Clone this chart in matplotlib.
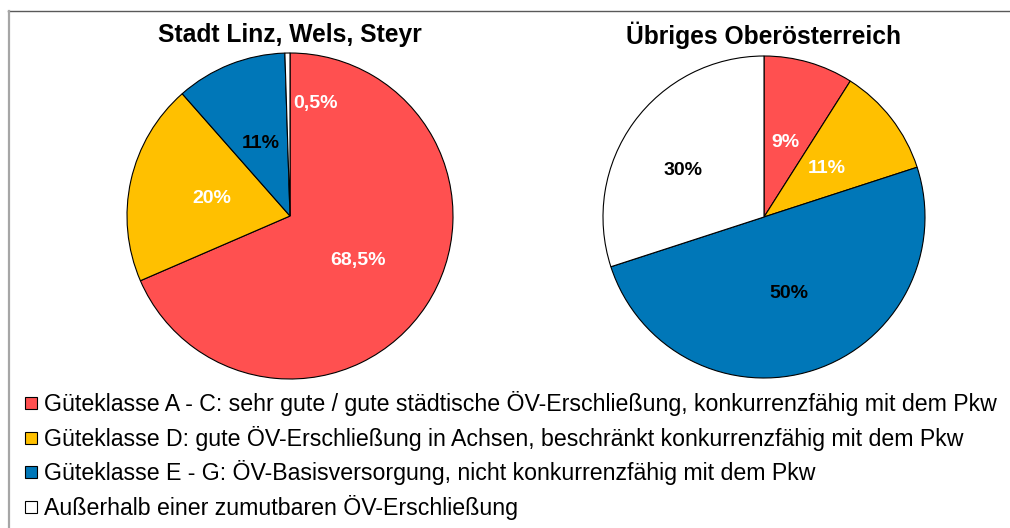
import matplotlib
matplotlib.use("Agg")
import matplotlib.pyplot as plt
from matplotlib.lines import Line2D
import numpy as np

plt.rcParams['font.family'] = ['Liberation Sans', 'DejaVu Sans']

# ---- data ----
titles = ["Stadt Linz, Wels, Steyr", "Übriges Oberösterreich"]
categories = [
    "Güteklasse A - C: sehr gute / gute städtische ÖV-Erschließung, konkurrenzfähig mit dem Pkw",
    "Güteklasse D: gute ÖV-Erschließung in Achsen, beschränkt konkurrenzfähig mit dem Pkw",
    "Güteklasse E - G: ÖV-Basisversorgung, nicht konkurrenzfähig mit dem Pkw",
    "Außerhalb einer zumutbaren ÖV-Erschließung",
]
values_city = [68.5, 20, 11, 0.5]
values_rest = [9, 11, 50, 30]
labels_city = ["68,5%", "20%", "11%", "0,5%"]
labels_rest = ["9%", "11%", "50%", "30%"]

# ---- style ----
colors = ["#FF5050", "#FFC000", "#0077B8", "#FFFFFF"]
text_colors_city = ["white", "white", "black", "white"]
text_colors_rest = ["white", "white", "black", "black"]
# per-label (angle override in degrees clockwise from top or None, radius fraction)
place_city = [(None, 0.50), (None, 0.49), (None, 0.48), (12.6, 0.71)]
place_rest = [(None, 0.48), (None, 0.49), (None, 0.50), (300.0, 0.58)]

W, H = 1010, 528
fig = plt.figure(figsize=(W / 100, H / 100), dpi=100)


def add_pie(cx, cy, r, values, labels, tcolors, place, title):
    ax = fig.add_axes([(cx - r) / W, (H - cy - r) / H, 2 * r / W, 2 * r / H])
    ax.pie(values, colors=colors, startangle=90, counterclock=False, radius=1.0,
           wedgeprops=dict(edgecolor="black", linewidth=0.8))
    ax.set_xlim(-1, 1)
    ax.set_ylim(-1, 1)
    ax.set_aspect("equal")
    ax.axis("off")
    total = float(sum(values))
    cum = 0.0
    for v, lab, tc, (ang, rf) in zip(values, labels, tcolors, place):
        mid = (cum + v / 2) / total * 360.0
        cum += v
        a = np.deg2rad(mid if ang is None else ang)
        ax.text(rf * np.sin(a), rf * np.cos(a), lab, ha="center", va="center",
                fontsize=14, fontweight="bold", color=tc)
    fig.text(cx / W, 1 - 35 / H, title, ha="center", va="center",
             fontsize=17.7, fontweight="bold", color="black")


add_pie(290, 216, 163, values_city, labels_city, text_colors_city, place_city, titles[0])
add_pie(764, 217, 161, values_rest, labels_rest, text_colors_rest, place_rest, titles[1])

handles = [Line2D([], [], marker="s", linestyle="", markersize=9.3,
                  markerfacecolor=c, markeredgecolor="black", markeredgewidth=0.8)
           for c in colors]
fig.legend(handles, categories, loc="upper left", bbox_to_anchor=(24 / W, 1 - 391 / H),
           frameon=False, fontsize=16.7, handlelength=0.6, handletextpad=0.25,
           labelspacing=0.42, borderpad=0, borderaxespad=0)

# frame lines
fig.add_artist(Line2D([8 / W, 1.0], [1 - 11 / H, 1 - 11 / H], color="#595959", linewidth=1.0))
fig.add_artist(Line2D([8.5 / W, 8.5 / W], [0, 1 - 11 / H], color="#A6A6A6", linewidth=1.6))

fig.savefig("out.png", dpi=100, facecolor="white")
